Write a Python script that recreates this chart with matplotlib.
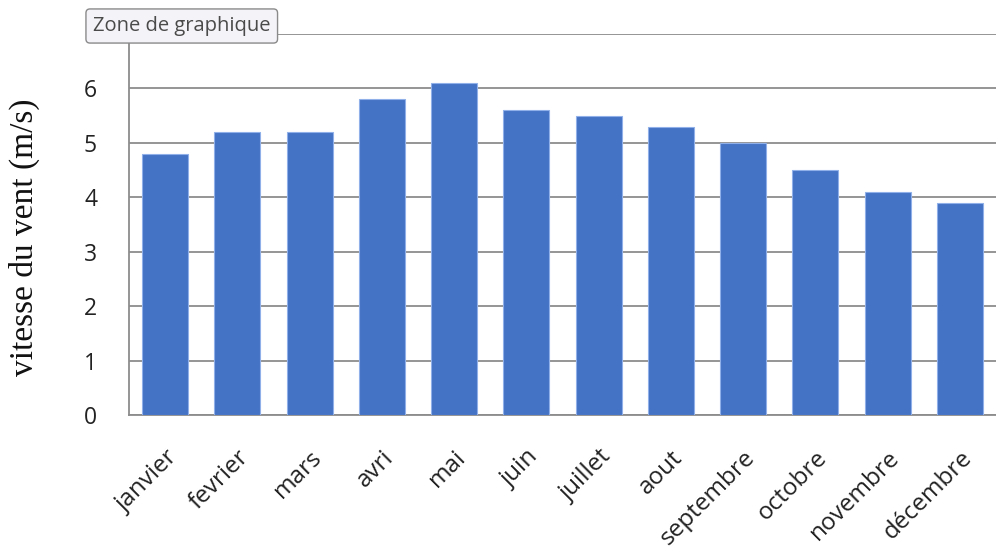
import numpy as np
import matplotlib
matplotlib.use('Agg')
import matplotlib.pyplot as plt

months = ['janvier', 'fevrier', 'mars', 'avri', 'mai', 'juin', 'juillet',
          'aout', 'septembre', 'octobre', 'novembre', 'décembre']
wind_speed = [4.8, 5.2, 5.2, 5.8, 6.1, 5.6, 5.5, 5.3, 5.0, 4.5, 4.1, 3.9]
y_ticks = [0, 1, 2, 3, 4, 5, 6]

fig = plt.figure(figsize=(9.96, 5.52), dpi=100)
ax = fig.add_axes([129 / 996, 1 - 415 / 552, 1 - 129 / 996, (415 - 34) / 552])

x = np.arange(len(months))
ax.bar(x, wind_speed, width=0.64, color='#4472C4', edgecolor='#8fb0e8',
       linewidth=0.8, zorder=3)

ax.set_xlim(-0.5, len(months) - 0.5)
ax.set_ylim(0, 7)
ax.set_yticks(range(8))
ax.set_yticklabels([str(v) for v in y_ticks] + [''])
ax.yaxis.grid(True, color='#8c8c8c', linewidth=1.3, zorder=0)
ax.tick_params(axis='both', length=0, colors='#222222')
ax.tick_params(axis='y', pad=23, labelsize=16.5)
for lbl in ax.get_yticklabels():
    lbl.set_family('Open Sans')

ax.set_xticks(x)
ax.set_xticklabels(months, rotation=45, ha='right', va='top',
                   rotation_mode='anchor', family='Open Sans', fontsize=17.5)
ax.tick_params(axis='x', pad=22)

for side in ['top', 'right']:
    ax.spines[side].set_visible(False)
ax.spines['left'].set_color('#8c8c8c')
ax.spines['bottom'].set_color('#8c8c8c')
ax.spines['left'].set_linewidth(1.3)
ax.spines['bottom'].set_linewidth(1.3)

ax.set_ylabel('vitesse du vent (m/s)', family='Liberation Serif', fontsize=24,
              color='#111111')
ax.yaxis.set_label_coords(-0.103, 0.467)

fig.text(93 / 996, 1 - 26 / 552, 'Zone de graphique', family='Open Sans',
         fontsize=14.5, color='#4a4a4a', va='center', ha='left',
         bbox=dict(boxstyle='round,pad=0.35,rounding_size=0.2', fc='#f4f4f8',
                   ec='#8a8a8a', lw=1.0))

fig.savefig('out.png', dpi=100)
